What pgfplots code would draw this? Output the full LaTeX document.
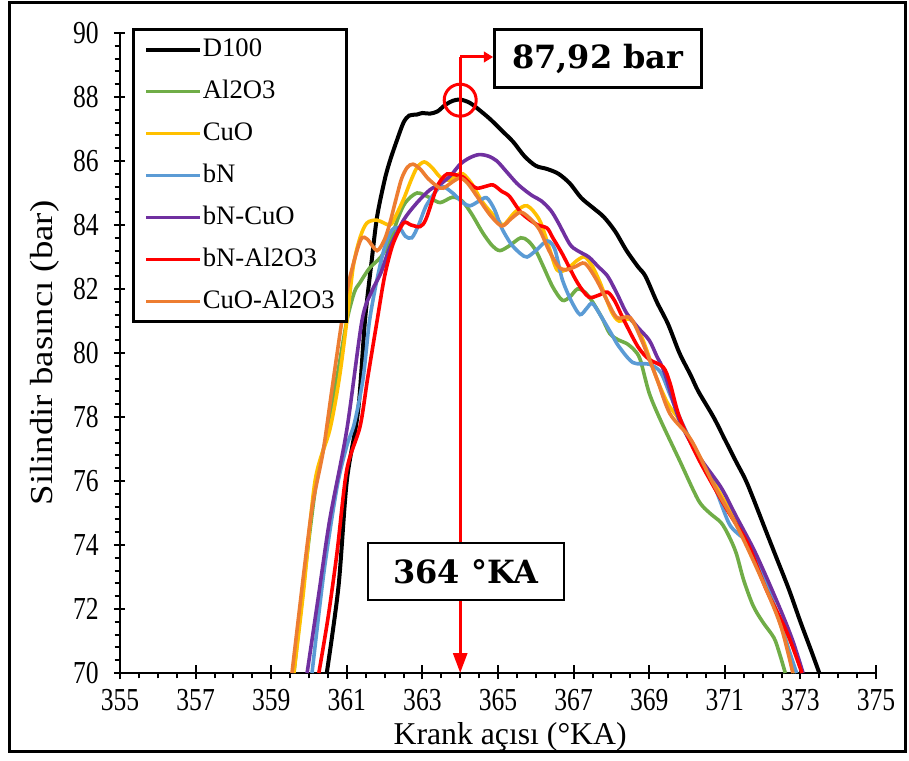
\documentclass[border=0pt]{standalone}
\usepackage{fontspec}
\setmainfont{Liberation Serif}
\newfontfamily\tickfont{Liberation Serif}[FakeStretch=0.8]
\newfontfamily\ylabfont{Liberation Serif}[FakeStretch=1.15]
\newfontfamily\annfont{DejaVu Serif}
\usepackage{pgfplots}
\pgfplotsset{compat=1.18}
\usetikzlibrary{arrows.meta}
\definecolor{cgreen}{RGB}{112,173,71}
\definecolor{cyellow}{RGB}{255,192,0}
\definecolor{cblue}{RGB}{91,155,213}
\definecolor{cpurple}{RGB}{112,48,160}
\definecolor{cred}{RGB}{255,0,0}
\definecolor{corange}{RGB}{237,125,49}
\begin{document}
\begin{tikzpicture}
\path[use as bounding box] (0,0) rectangle (681.75pt,570pt);
\draw[line width=2.25pt] (6.75pt,6.75pt) rectangle (678.75pt,567.75pt);
\begin{axis}[
  at={(90pt,65.25pt)}, anchor=south west,
  width=567pt, height=480pt, scale only axis,
  xmin=355, xmax=375, ymin=70, ymax=90,
  clip=false,
  axis lines=left, axis line style={-, line width=1.8pt},
  xtick={355,357,...,375}, ytick={70,72,...,90},
  minor x tick num=3, minor y tick num=4,
  tick align=outside,
  major tick length=4.5pt, minor tick length=4pt,
  tick style={black, line width=1.5pt},
  extra x ticks={355,357,...,375}, extra x tick labels={},
  extra x tick style={tick align=inside, major tick length=6pt},
  extra y ticks={70,72,...,90}, extra y tick labels={},
  extra y tick style={tick align=inside, major tick length=4pt},
  /pgf/number format/assume math mode=true,
  tick label style={font=\tickfont\fontsize{24}{24}\selectfont},
  xticklabel style={yshift=-4pt},
  yticklabel style={xshift=-8pt},
  xlabel={Krank açısı (°KA)},
  xlabel style={font=\fontsize{23.8}{24}\selectfont, at={(axis description cs:0.516,-0.1)}, anchor=center},
  ylabel={\ylabfont Silindir basıncı (bar)},
  ylabel style={font=\fontsize{24}{24}\selectfont, at={(axis description cs:-0.099,0.5)}, anchor=center},
  legend style={at={(axis description cs:0.0159,1.0078)}, anchor=north west,
    draw=black, line width=2.25pt, font=\fontsize{20}{20}\selectfont,
    inner xsep=8pt, inner ysep=5pt, row sep=11.5pt,
    nodes={inner sep=1pt, text height=14pt, text depth=4pt},
    cells={anchor=west}},
  legend image code/.code={\draw[#1] (0pt,0pt) -- (40pt,0pt);},
  every axis plot/.append style={smooth, tension=0.5},
]
\addplot[black, line width=3pt] coordinates {
(360.47,70) (360.78,72.7) (361.0,76.0) (361.3,78.2) (361.48,81.0) (361.65,82.8)
(361.8,84.25) (362.0,85.4) (362.14,86.0) (362.33,86.66) (362.5,87.2) (362.65,87.42)
(362.85,87.45) (363.0,87.5) (363.2,87.48) (363.4,87.55) (363.6,87.75) (363.8,87.88)
(364.0,87.92) (364.25,87.82) (364.5,87.6) (364.8,87.3) (365.1,86.95) (365.4,86.6)
(365.7,86.15) (366.0,85.85) (366.3,85.75) (366.6,85.6) (366.9,85.3) (367.2,84.85)
(367.5,84.55) (367.8,84.25) (368.1,83.8) (368.4,83.2) (368.7,82.7) (368.9,82.4)
(369.2,81.6) (369.5,80.9) (369.8,80.0) (370.1,79.3) (370.3,78.8) (370.7,78.0)
(371.0,77.3) (371.3,76.6) (371.6,75.9) (372.1,74.4) (372.4,73.5) (372.7,72.6)
(373.0,71.6) (373.3,70.65) (373.5,70)};
\addlegendentry{D100}
\addplot[cgreen, line width=2.7pt] coordinates {
(359.6,70) (359.9,73.2) (360.2,76.0) (360.5,77.6) (360.75,79.3) (361.0,81.0)
(361.2,81.9) (361.35,82.2) (361.6,82.65) (361.9,83.0) (362.15,83.5) (362.35,84.2)
(362.55,84.7) (362.86,85.0) (363.2,84.85) (363.47,84.7) (363.8,84.87) (364.05,84.75)
(364.3,84.35) (364.6,83.75) (364.85,83.35) (365.05,83.2) (365.3,83.35) (365.6,83.6)
(365.8,83.5) (366.0,83.2) (366.2,82.7) (366.45,82.06) (366.7,81.65) (366.9,81.75)
(367.1,82.0) (367.3,81.9) (367.5,81.6) (367.75,81.1) (367.96,80.6) (368.2,80.4)
(368.4,80.3) (368.6,80.1) (368.76,79.8) (369.0,78.75) (369.3,77.9) (369.8,76.65)
(370.3,75.4) (370.6,75.0) (370.9,74.7) (371.1,74.3) (371.3,73.75) (371.5,72.9)
(371.75,72.1) (372.0,71.6) (372.3,71.1) (372.45,70.6) (372.6,70)};
\addlegendentry{Al2O3}
\addplot[cyellow, line width=2.7pt] coordinates {
(359.6,70) (359.85,72.5) (360.16,76.0) (360.55,77.6) (360.8,79.2) (361.0,81.0)
(361.17,82.7) (361.35,83.6) (361.53,84.06) (361.8,84.15) (362.14,84.0) (362.3,84.3)
(362.5,84.8) (362.7,85.4) (362.86,85.8) (363.05,85.97) (363.25,85.8) (363.47,85.5)
(363.7,85.4) (363.9,85.55) (364.07,85.6) (364.3,85.3) (364.6,84.7) (365.0,84.15)
(365.15,84.0) (365.45,84.4) (365.77,84.6) (366.1,84.15) (366.35,83.3) (366.56,82.6)
(366.8,82.6) (367.1,82.9) (367.3,83.0) (367.5,82.7) (367.7,82.2) (368.0,81.3)
(368.2,81.0) (368.5,81.05) (368.8,80.5) (369.2,79.2) (369.5,78.4) (369.8,77.9)
(370.5,76.4) (371.3,74.7) (372.1,72.7) (372.5,71.5) (372.85,70)};
\addlegendentry{CuO}
\addplot[cblue, line width=2.7pt] coordinates {
(360.08,70) (360.4,73.2) (360.74,75.8) (361.0,77.1) (361.2,77.8) (361.43,79.2)
(361.6,81.0) (361.8,82.3) (362.0,83.3) (362.2,83.85) (362.4,83.9) (362.55,83.65)
(362.72,83.6) (362.9,84.0) (363.1,84.6) (363.39,85.1) (363.55,85.2) (363.8,85.0)
(364.07,84.7) (364.26,84.6) (364.5,84.75) (364.7,84.85) (364.9,84.5) (365.1,83.9)
(365.35,83.4) (365.6,83.1) (365.77,83.0) (366.0,83.2) (366.3,83.5) (366.5,83.25)
(366.7,82.3) (366.95,81.6) (367.17,81.2) (367.35,81.4) (367.5,81.55) (367.75,81.1)
(368.0,80.6) (368.2,80.2) (368.57,79.7) (369.0,79.65) (369.3,79.4) (369.55,78.7)
(369.8,78.0) (370.2,77.0) (370.7,75.9) (371.1,74.7) (371.35,74.35) (371.6,74.1)
(371.85,73.5) (372.1,72.8) (372.4,71.8) (372.7,70.7) (372.9,70)};
\addlegendentry{bN}
\addplot[cpurple, line width=2.7pt] coordinates {
(359.95,70) (360.25,72.4) (360.55,74.8) (361.0,77.6) (361.4,81.0) (361.65,81.9)
(361.9,82.5) (362.14,83.3) (362.5,84.15) (362.86,84.7) (363.2,85.1) (363.5,85.3)
(363.75,85.55) (364.0,85.9) (364.25,86.1) (364.5,86.2) (364.75,86.15) (364.97,86.0)
(365.2,85.7) (365.5,85.3) (365.75,85.05) (365.93,84.9) (366.15,84.75) (366.4,84.45)
(366.6,84.06) (366.9,83.4) (367.1,83.2) (367.4,83.0) (367.65,82.7) (367.9,82.4)
(368.15,81.85) (368.4,81.25) (368.7,80.8) (369.0,80.4) (369.2,79.9) (369.4,79.4)
(369.8,77.9) (370.3,76.8) (370.9,75.8) (371.3,74.9) (371.75,73.9) (372.1,73.0)
(372.5,71.9) (372.8,71.0) (373.07,70)};
\addlegendentry{bN-CuO}
\addplot[cred, line width=2.7pt] coordinates {
(360.26,70) (360.5,71.7) (360.74,73.75) (361.0,76.35) (361.35,77.7) (361.55,79.2)
(361.8,81.0) (362.0,82.4) (362.22,83.4) (362.5,84.06) (362.7,84.0) (362.94,83.95)
(363.1,84.2) (363.39,85.2) (363.6,85.55) (363.73,85.6) (364.07,85.5) (364.25,85.3)
(364.44,85.15) (364.65,85.2) (364.87,85.25) (365.1,85.05) (365.3,84.9) (365.6,84.4)
(365.85,84.15) (366.05,84.0) (366.3,83.9) (366.45,83.6) (366.7,83.1) (367.1,82.2)
(367.4,81.75) (367.65,81.8) (367.9,81.9) (368.1,81.6) (368.3,81.1) (368.7,80.2)
(369.0,79.8) (369.37,79.56) (369.55,79.06) (369.8,78.0) (370.3,76.7) (371.06,75.1)
(371.6,74.06) (372.1,72.6) (372.65,71.25) (373.04,70)};
\addlegendentry{bN-Al2O3}
\addplot[corange, line width=2.7pt] coordinates {
(359.55,70) (359.9,73.5) (360.1,75.3) (360.37,76.9) (360.6,78.8) (360.87,81.0)
(361.05,82.2) (361.27,83.2) (361.4,83.6) (361.55,83.55) (361.8,83.2) (362.0,83.55)
(362.14,84.06) (362.3,84.8) (362.45,85.45) (362.6,85.8) (362.75,85.9) (362.94,85.75)
(363.15,85.45) (363.4,85.2) (363.55,85.15) (363.8,85.35) (364.0,85.47) (364.2,85.3)
(364.5,84.8) (364.8,84.3) (365.1,83.97) (365.35,84.2) (365.6,84.4) (365.85,84.2)
(366.1,83.85) (366.35,83.2) (366.6,82.7) (366.8,82.6) (367.05,82.7) (367.3,82.8)
(367.6,82.3) (367.9,81.6) (368.15,81.1) (368.5,81.1) (368.8,80.4) (369.2,79.2)
(369.55,78.1) (370.1,77.3) (370.7,75.9) (371.4,74.4) (372.1,72.6) (372.5,71.4)
(372.8,70)};
\addlegendentry{CuO-Al2O3}
% annotations
\draw[cred, line width=2.25pt, -{Triangle[length=15pt,width=10.5pt]}] (axis cs:364,89.25) -- (axis cs:364,70);
\draw[cred, line width=2.25pt, -{Triangle[length=7pt,width=8pt]}] (axis cs:364,89.25) -- (axis cs:364.87,89.25);
\draw[cred, line width=2.25pt] (axis cs:364,87.9) circle[radius=12pt];
\node[draw=black, line width=2.25pt, fill=white, minimum width=155pt, minimum height=43.5pt, anchor=west, inner sep=0pt,
  font=\annfont\bfseries\fontsize{24}{24}\selectfont] at (axis cs:364.87,89.19) {87,92 bar};
\node[draw=black, line width=1.5pt, fill=white, minimum width=147pt, minimum height=42.75pt, inner sep=0pt,
  font=\annfont\bfseries\fontsize{24}{24}\selectfont] at (axis cs:364.15,73.17) {364 °KA};
\end{axis}
\end{tikzpicture}
\end{document}
